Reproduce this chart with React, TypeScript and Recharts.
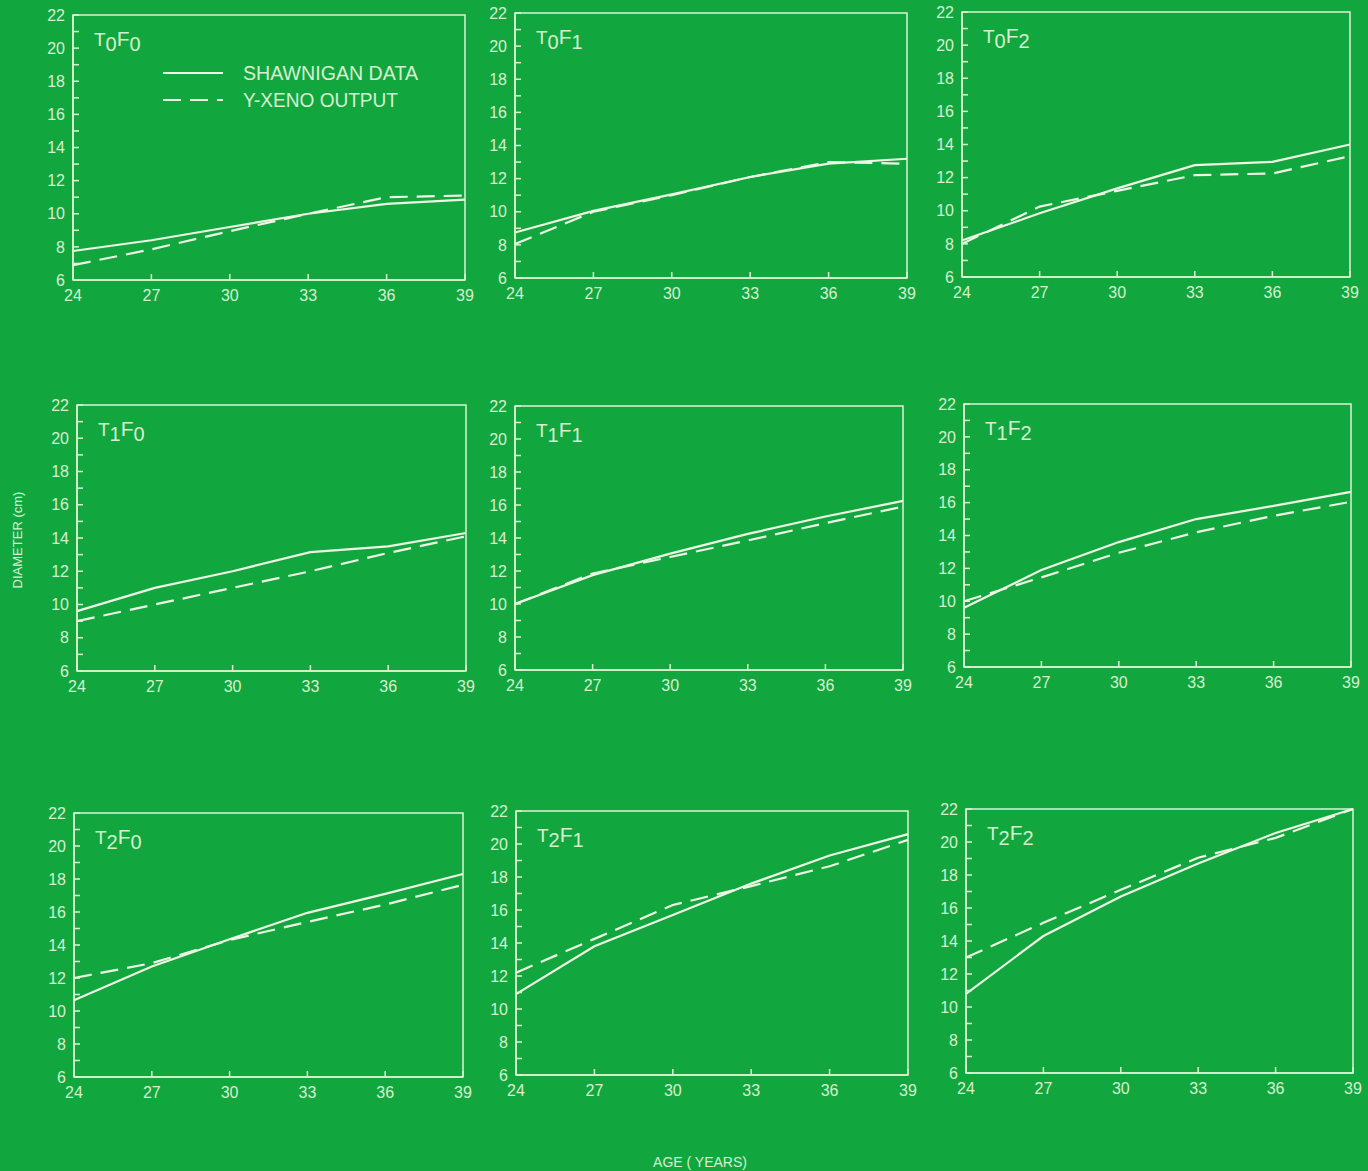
import React from 'react';
import { LineChart, Line, XAxis, YAxis, Legend, ReferenceArea } from 'recharts';

// ---------- data ----------
const ages = [24, 27, 30, 33, 36, 39];
const xTicks = [24, 27, 30, 33, 36, 39];
const yTicks = [6, 7, 8, 9, 10, 11, 12, 13, 14, 15, 16, 17, 18, 19, 20, 21, 22];

const seriesNames = { data: 'SHAWNIGAN DATA', model: 'Y-XENO OUTPUT' };

// panel titles: T index, F index
const panelT = ['0', '0', '0', '1', '1', '1', '2', '2', '2'];
const panelF = ['0', '1', '2', '0', '1', '2', '0', '1', '2'];

const shawnigan_T0F0 = [7.75, 8.4, 9.2, 10.0, 10.6, 10.85];
const yxeno_T0F0 = [6.9, 7.85, 8.95, 10.0, 11.0, 11.1];
const shawnigan_T0F1 = [8.75, 10.05, 11.05, 12.1, 12.9, 13.2];
const yxeno_T0F1 = [8.05, 10.0, 11.0, 12.1, 13.0, 12.9];
const shawnigan_T0F2 = [8.2, 9.85, 11.35, 12.75, 12.95, 14.0];
const yxeno_T0F2 = [8.0, 10.25, 11.2, 12.15, 12.25, 13.3];
const shawnigan_T1F0 = [9.6, 11.0, 12.0, 13.15, 13.5, 14.3];
const yxeno_T1F0 = [9.0, 10.0, 11.0, 12.0, 13.1, 14.1];
const shawnigan_T1F1 = [10.0, 11.75, 13.05, 14.25, 15.3, 16.25];
const yxeno_T1F1 = [10.0, 11.85, 12.85, 13.85, 14.9, 15.9];
const shawnigan_T1F2 = [9.6, 11.9, 13.6, 15.0, 15.8, 16.65];
const yxeno_T1F2 = [10.0, 11.45, 12.95, 14.2, 15.2, 16.05];
const shawnigan_T2F0 = [10.65, 12.7, 14.35, 15.95, 17.1, 18.3];
const yxeno_T2F0 = [12.0, 12.9, 14.3, 15.4, 16.45, 17.65];
const shawnigan_T2F1 = [10.9, 13.8, 15.7, 17.6, 19.3, 20.6];
const yxeno_T2F1 = [12.2, 14.25, 16.3, 17.45, 18.65, 20.25];
const shawnigan_T2F2 = [10.8, 14.3, 16.7, 18.7, 20.55, 22.0];
const yxeno_T2F2 = [13.0, 15.1, 17.1, 19.05, 20.25, 22.0];

const solidSets = [
  shawnigan_T0F0, shawnigan_T0F1, shawnigan_T0F2,
  shawnigan_T1F0, shawnigan_T1F1, shawnigan_T1F2,
  shawnigan_T2F0, shawnigan_T2F1, shawnigan_T2F2,
];
const dashedSets = [
  yxeno_T0F0, yxeno_T0F1, yxeno_T0F2,
  yxeno_T1F0, yxeno_T1F1, yxeno_T1F2,
  yxeno_T2F0, yxeno_T2F1, yxeno_T2F2,
];

// ---------- layout / style ----------
const BG = '#12a63f';
const LINE = '#eef6e4';
const FRAME = '#dcf3d2';
const TEXT = '#d6f1cf';
const DASH = '18 9';
const FONT = "'Liberation Sans Narrow', 'Liberation Sans', Arial, sans-serif";

// plot boxes: left, top, right, bottom (page px)
const boxes = [
  [73, 15, 465, 280], [515, 13, 907, 278], [962, 12, 1350, 277],
  [77, 405, 466, 671], [515, 406, 903, 670], [964, 404, 1351, 667],
  [74, 813, 463, 1077], [516, 811, 908, 1075], [966, 809, 1353, 1073],
];

const YW = 45;
const XH = 32;
const MT = 10;
const MR = 10;

const renderLegend = (props: any) => {
  const payload = props.payload || [];
  return (
    <svg width={290} height={60} style={{ overflow: 'visible' }}>
      {payload.map((e: any, i: number) => {
        const y = 10 + i * 27;
        const dash =
          (e.payload && e.payload.strokeDasharray) || (e.dataKey === 'model' ? DASH : undefined);
        return (
          <g key={i}>
            <line x1={0} x2={60} y1={y} y2={y} stroke={LINE} strokeWidth={2} strokeDasharray={dash} />
            <text
              x={80}
              y={y}
              dominantBaseline="central"
              fill={TEXT}
              fontSize={20}
              fontFamily={FONT}
              textLength={e.dataKey === 'model' ? 155 : 175}
              lengthAdjust="spacingAndGlyphs"
            >
              {e.value}
            </text>
          </g>
        );
      })}
    </svg>
  );
};

function Panel({ idx }: { idx: number }) {
  const [l, t, r, b] = boxes[idx];
  const w = r - l + YW + MR;
  const h = b - t + MT + XH;
  const data = ages.map((a, i) => ({ age: a, data: solidSets[idx][i], model: dashedSets[idx][i] }));
  const tickStyle = { fill: TEXT, fontSize: 16, fontFamily: FONT };
  return (
    <>
      <div style={{ position: 'absolute', left: l - YW, top: t - MT, width: w, height: h }}>
        <LineChart width={w} height={h} data={data} margin={{ top: MT, right: MR, bottom: 0, left: 0 }}>
          <XAxis
            dataKey="age"
            type="number"
            domain={[24, 39]}
            ticks={xTicks}
            interval={0}
            height={XH}
            tickSize={-6}
            tickMargin={16}
            axisLine={{ stroke: FRAME, strokeWidth: 1.5 }}
            tickLine={{ stroke: FRAME, strokeWidth: 1.5 }}
            tick={tickStyle}
          />
          <YAxis
            type="number"
            domain={[6, 22]}
            ticks={yTicks}
            interval={0}
            width={YW}
            tickSize={-6}
            tickMargin={14}
            tickFormatter={(v: number) => (v % 2 === 0 ? String(v) : '')}
            axisLine={{ stroke: FRAME, strokeWidth: 1.5 }}
            tickLine={{ stroke: FRAME, strokeWidth: 1.5 }}
            tick={tickStyle}
          />
          <ReferenceArea
            x1={24}
            x2={39}
            y1={6}
            y2={22}
            fill="none"
            fillOpacity={0}
            stroke={FRAME}
            strokeWidth={1.5}
            ifOverflow="visible"
          />
          <Line
            dataKey="data"
            name={seriesNames.data}
            type="linear"
            stroke={LINE}
            strokeWidth={2.2}
            dot={false}
            isAnimationActive={false}
          />
          <Line
            dataKey="model"
            name={seriesNames.model}
            type="linear"
            stroke={LINE}
            strokeWidth={2.2}
            strokeDasharray={DASH}
            dot={false}
            isAnimationActive={false}
          />
          {idx === 0 && (
            <Legend
              layout="vertical"
              align="center"
              verticalAlign="middle"
              content={renderLegend}
              wrapperStyle={{ left: 163 - (l - YW), top: 73 - 10 - (t - MT), width: 290, height: 60 }}
            />
          )}
        </LineChart>
      </div>
      <div
        style={{
          position: 'absolute',
          left: l + 21,
          top: t + 13,
          color: TEXT,
          fontFamily: FONT,
          fontSize: 21,
          lineHeight: '22px',
          whiteSpace: 'nowrap',
        }}
      >
        <span style={{ fontSize: 19 }}>T</span>
        <span style={{ position: 'relative', top: 5, fontSize: 20 }}>{panelT[idx]}</span>
        <span>F</span>
        <span style={{ position: 'relative', top: 5, fontSize: 20 }}>{panelF[idx]}</span>
      </div>
    </>
  );
}

export default function App() {
  return (
    <div
      style={{
        position: 'absolute',
        left: 0,
        top: 0,
        width: 1368,
        height: 1171,
        background: BG,
        overflow: 'hidden',
        fontFamily: FONT,
      }}
    >
      {boxes.map((_, i) => (
        <Panel key={i} idx={i} />
      ))}
      <div
        style={{
          position: 'absolute',
          left: 17,
          top: 540,
          transform: 'translate(-50%, -50%) rotate(-90deg)',
          color: TEXT,
          fontSize: 13,
          fontFamily: "'Liberation Sans', Arial, sans-serif",
          whiteSpace: 'nowrap',
        }}
      >
        DIAMETER (cm)
      </div>
      <div
        style={{
          position: 'absolute',
          left: 700,
          top: 1162,
          transform: 'translate(-50%, -50%)',
          color: TEXT,
          fontSize: 14,
          fontFamily: "'Liberation Sans', Arial, sans-serif",
          whiteSpace: 'nowrap',
        }}
      >
        AGE ( YEARS)
      </div>
    </div>
  );
}
